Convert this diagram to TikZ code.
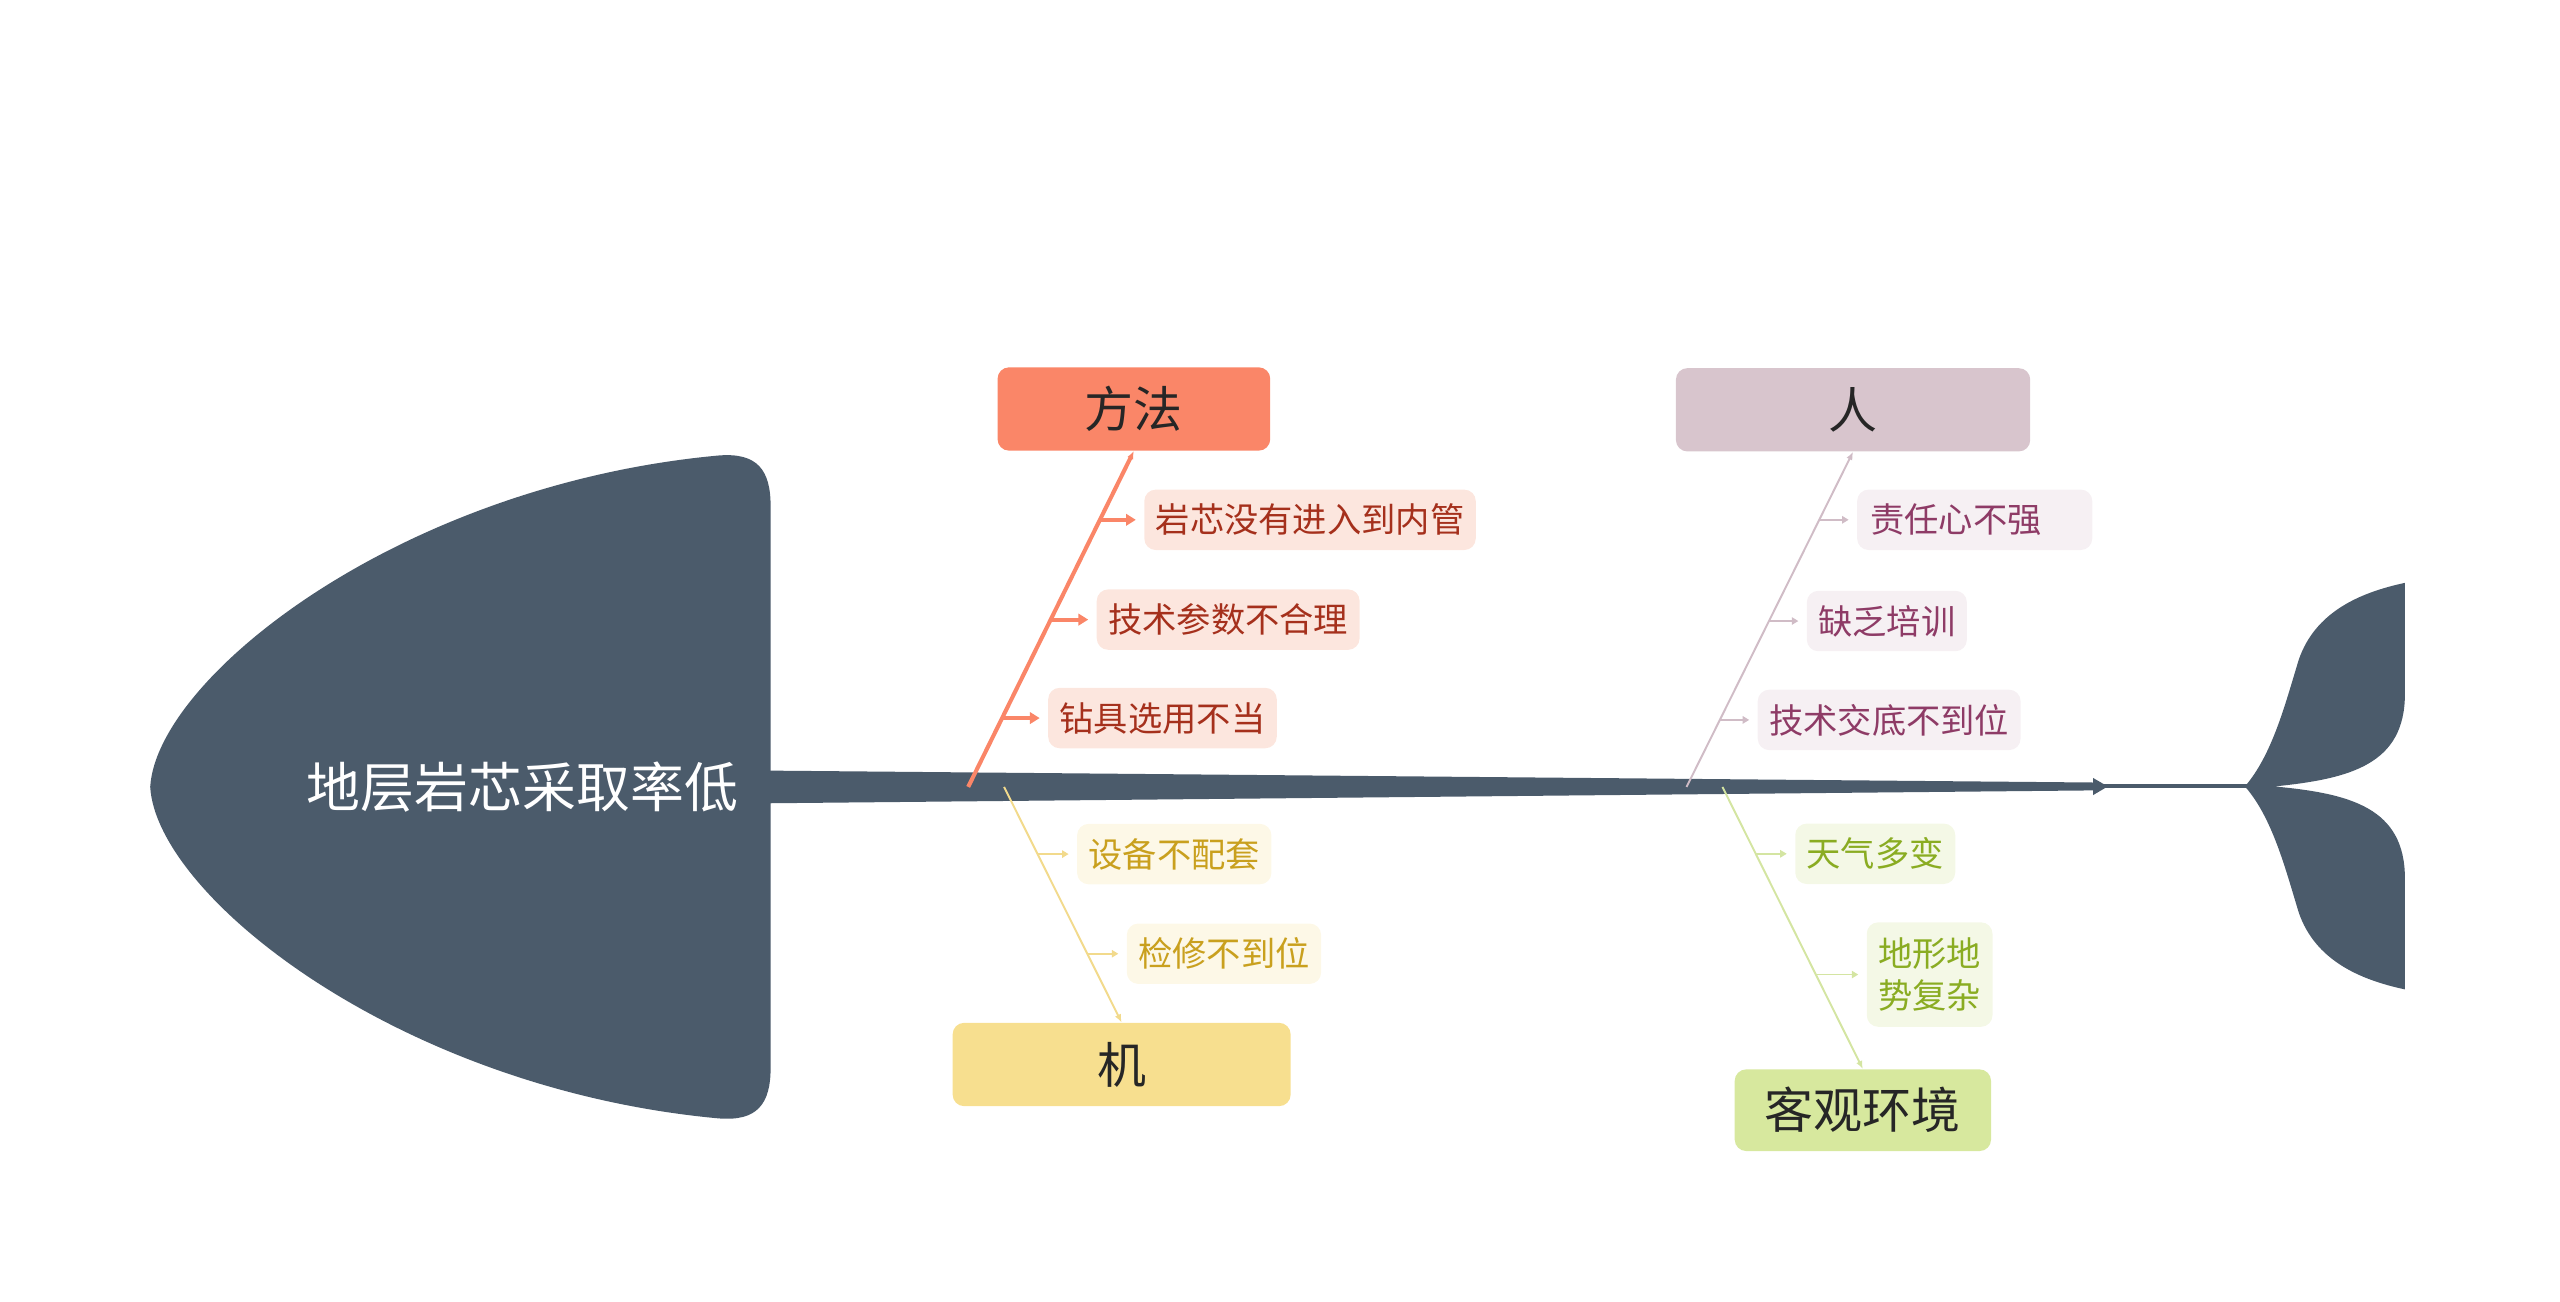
\documentclass[tikz,border=0pt]{standalone}
\usepackage{fontspec}
\newfontfamily\cjk{Noto Sans CJK SC}
\usetikzlibrary{arrows.meta,positioning,calc}
\definecolor{fishgray}{HTML}{4B5B6B}
\definecolor{ffmain}{HTML}{FA8668}
\definecolor{fflight}{HTML}{FCE6DE}
\definecolor{fftext}{HTML}{A5301C}
\definecolor{rnmain}{HTML}{D8C5CD}
\definecolor{rnline}{HTML}{D0BCC6}
\definecolor{rnlight}{HTML}{F6F0F3}
\definecolor{rntext}{HTML}{8E3B66}
\definecolor{jimain}{HTML}{F7DF8F}
\definecolor{jiline}{HTML}{F2DA8C}
\definecolor{jilight}{HTML}{FDF8E7}
\definecolor{jitext}{HTML}{C9A01E}
\definecolor{kgmain}{HTML}{D7E89E}
\definecolor{kgline}{HTML}{D4E5A2}
\definecolor{kglight}{HTML}{F4F8E6}
\definecolor{kgtext}{HTML}{8AAC22}
\tikzset{
  catbox/.style={rounded corners=7pt, minimum height=51pt, align=center, text=black!85, font=\cjk\fontsize{30}{34}\selectfont},
  causebox/.style={rounded corners=7pt, minimum height=37pt, inner xsep=7pt, align=center, font=\cjk\fontsize{21}{26}\selectfont},
  bone/.style={-{Latex[length=5pt,width=4pt]}, line width=1.2pt},
  twig/.style={-{Triangle[length=4pt,width=4.5pt]}, line width=1pt, shorten >=5pt},
  bigtwig/.style={-{Triangle[length=6pt,width=7pt]}, line width=2.5pt, shorten >=5pt}
}

\begin{document}
\begin{tikzpicture}[x=1pt, y=-1pt]
  \useasboundingbox (0,0) rectangle (1568,797);

  % fish head, spine and tail
  \fill[fishgray] (92,482) .. controls (96,415) and (245,297) .. (440,279)
    .. controls (464,277) and (472,288) .. (472,310) -- (472,654)
    .. controls (472,676) and (464,687) .. (440,685)
    .. controls (245,667) and (96,549) .. (92,482) -- cycle;
  \fill[fishgray] (471,472) -- (1284,479.3) -- (1284,484.1) -- (471,492) -- cycle;
  \fill[fishgray] (1282,476.5) -- (1291,481.7) -- (1282,487) -- cycle;
  \draw[fishgray, line width=2.5pt] (1284,481.7) -- (1378,481.7);
  \fill[fishgray] (1375,481.7) .. controls (1392,462) and (1400,430) .. (1408,404)
    .. controls (1418,375) and (1445,363) .. (1473,357) -- (1473,425)
    .. controls (1473,468) and (1440,477) .. (1393,481.7)
    .. controls (1440,486) and (1473,495) .. (1473,538) -- (1473,606)
    .. controls (1445,600) and (1418,588) .. (1408,559)
    .. controls (1400,533) and (1392,501) .. (1375,481.7) -- cycle;

  \node[text=white, font=\cjk\fontsize{33}{38}\selectfont] (effect) at (320,482) {地层岩芯采取率低};

  % categories
  \node[catbox, fill=ffmain, minimum width=167pt] (fangfa) at (694.5,250.5) {方法};
  \node[catbox, fill=rnmain, minimum width=217pt] (ren) at (1135,251) {人};
  \node[catbox, fill=jimain, minimum width=207pt] (ji) at (687,652) {机};
  \node[catbox, fill=kgmain, minimum width=157pt, minimum height=50pt] (keguan) at (1141,680) {客观环境};

  \coordinate (fA) at (593,482);
  \coordinate (rA) at (1033,482);
  \coordinate (jA) at (615,482);
  \coordinate (kA) at (1055,482);

  \draw[bone, line width=2.5pt, draw=ffmain] (fA) -- (fangfa.south);
  \draw[bone, draw=rnline] (rA) -- (ren.south);
  \draw[bone, draw=jiline] (jA) -- (ji.north);
  \draw[bone, draw=kgline] (kA) -- (keguan.north);

  % 方法
  \coordinate (f1) at ($(fA)!0.795!(fangfa.south)$);
  \coordinate (f2) at ($(fA)!0.498!(fangfa.south)$);
  \coordinate (f3) at ($(fA)!0.205!(fangfa.south)$);
  \node[causebox, fill=fflight, text=fftext, right=27pt of f1] (ff1) {岩芯没有进入到内管};
  \node[causebox, fill=fflight, text=fftext, right=28pt of f2] (ff2) {技术参数不合理};
  \node[causebox, fill=fflight, text=fftext, right=28pt of f3] (ff3) {钻具选用不当};
  \draw[bigtwig, draw=ffmain] (f1) -- (ff1);
  \draw[bigtwig, draw=ffmain] (f2) -- (ff2);
  \draw[bigtwig, draw=ffmain] (f3) -- (ff3);

  % 人
  \coordinate (r1) at ($(rA)!0.797!(ren.south)$);
  \coordinate (r2) at ($(rA)!0.495!(ren.south)$);
  \coordinate (r3) at ($(rA)!0.2!(ren.south)$);
  \node[causebox, fill=rnlight, text=rntext, right=23pt of r1, text width=128pt, align=left, inner xsep=8pt] (rn1) {责任心不强};
  \node[causebox, fill=rnlight, text=rntext, right=23pt of r2] (rn2) {缺乏培训};
  \node[causebox, fill=rnlight, text=rntext, right=23pt of r3] (rn3) {技术交底不到位};
  \draw[twig, draw=rnline] (r1) -- (rn1);
  \draw[twig, draw=rnline] (r2) -- (rn2);
  \draw[twig, draw=rnline] (r3) -- (rn3);

  % 机
  \coordinate (j1) at ($(jA)!0.285!(ji.north)$);
  \coordinate (j2) at ($(jA)!0.708!(ji.north)$);
  \node[causebox, fill=jilight, text=jitext, right=24pt of j1] (ji1) {设备不配套};
  \node[causebox, fill=jilight, text=jitext, right=24pt of j2] (ji2) {检修不到位};
  \draw[twig, draw=jiline] (j1) -- (ji1);
  \draw[twig, draw=jiline] (j2) -- (ji2);

  % 客观环境
  \coordinate (k1) at ($(kA)!0.237!(keguan.north)$);
  \coordinate (k2) at ($(kA)!0.665!(keguan.north)$);
  \node[causebox, fill=kglight, text=kgtext, right=24pt of k1] (kg1) {天气多变};
  \node[causebox, fill=kglight, text=kgtext, right=31pt of k2, minimum height=64pt] (kg2) {地形地\\势复杂};
  \draw[twig, draw=kgline] (k1) -- (kg1);
  \draw[twig, draw=kgline] (k2) -- (kg2);
\end{tikzpicture}
\end{document}
